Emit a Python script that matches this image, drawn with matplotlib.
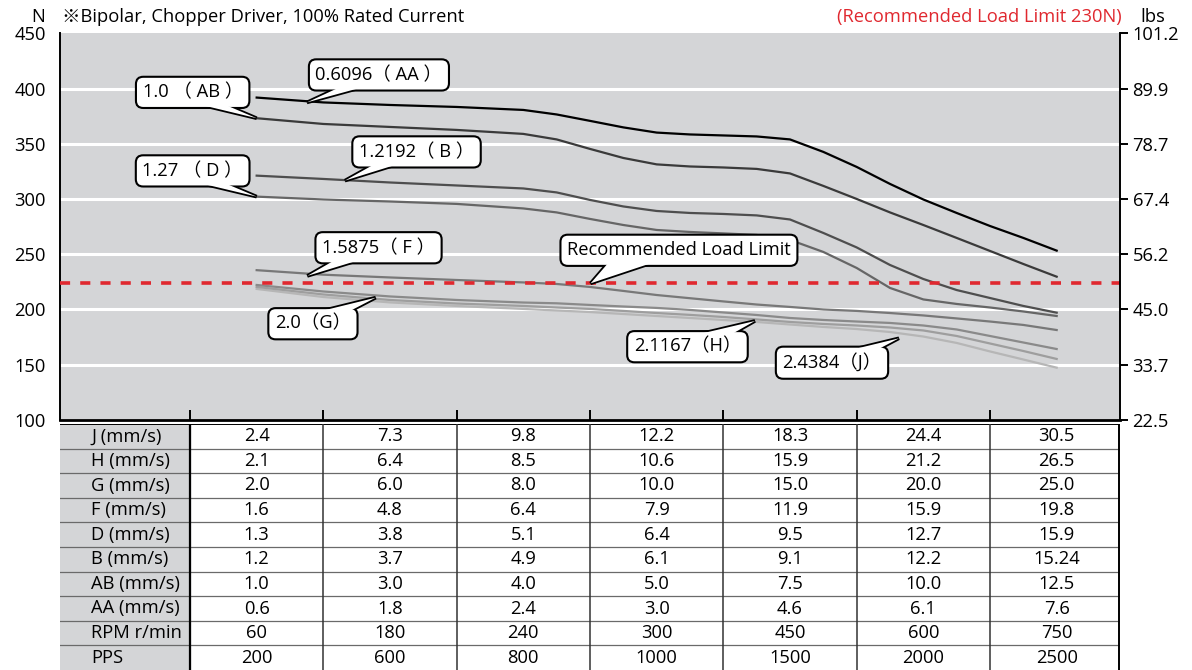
import matplotlib.pyplot as plt
from matplotlib.patches import Polygon

plt.rcParams['font.family'] = ['Open Sans', 'Noto Sans CJK JP', 'DejaVu Sans']

# x positions of the read points (table column index)
STEPS = [0, 0.5, 1, 1.5, 2, 2.25, 2.5, 2.75, 3, 3.25, 3.5, 3.75,
         4, 4.25, 4.5, 4.75, 5, 5.25, 5.5, 5.75, 6]

# load (N)
LOAD_AA = [391.8, 387.4, 385.1, 383.3, 380.6, 376.5, 370.7, 364.8, 360.1, 358.4, 357.5,
           356.6, 353.9, 342.6, 329, 313.6, 299.5, 287.3, 275.5, 264.7, 253.2]
LOAD_AB = [373.1, 367.9, 365.2, 362.5, 358.9, 353.9, 345.3, 337.1, 331.3, 329.4, 328.5,
           327.2, 323.1, 311.8, 300, 287.8, 276.4, 264.7, 252.9, 241.1, 229.6]
LOAD_B = [321.1, 318.1, 314.9, 312.2, 309.5, 305.9, 299.1, 293.2, 289.1, 287.3, 286.4,
          285.1, 281.4, 269.2, 256.1, 240.2, 227.5, 217.5, 210.3, 203.1, 197]
LOAD_D = [302.1, 299.5, 297.7, 295.5, 291.4, 287.8, 281.9, 276.4, 271.9, 270.1, 268.8,
          267.4, 262.9, 252, 237.5, 219.4, 209, 204.9, 201.7, 198.1, 194]
LOAD_F = [235.5, 231.4, 228.9, 226.6, 224.4, 223, 220.3, 216.7, 213, 210.1, 207.2,
          204.4, 202.2, 199.9, 198.6, 196.7, 194.5, 191.8, 189, 185.9, 181.3]
LOAD_G = [222.1, 216.2, 211.7, 208.5, 206.2, 205.5, 204, 202.6, 201.3, 199.5, 197.2,
          194.9, 192.2, 190.4, 189, 187.7, 185.4, 181.8, 175.9, 170, 164.1]
LOAD_H = [220.3, 213.5, 208.5, 205.3, 203.1, 201.7, 200.4, 198.6, 196.7, 195, 193.1,
          190.9, 188.6, 186.8, 185.4, 183.6, 180.9, 175.9, 169.1, 162.3, 155.1]
LOAD_J = [218.5, 211.2, 206.3, 203.1, 200.4, 199, 197.6, 195.8, 194, 192.2, 190.4,
          188.6, 186.3, 184.1, 182.2, 179.5, 175.4, 169.6, 161.9, 154.6, 147.2]

LOAD_LIMIT = 224

N_TICKS = [100, 150, 200, 250, 300, 350, 400, 450]
LBS_LABELS = ['22.5', '33.7', '45.0', '56.2', '67.4', '78.7', '89.9', '101.2']

ROW_NAMES = ['J (mm/s)', 'H (mm/s)', 'G (mm/s)', 'F (mm/s)', 'D (mm/s)',
             'B (mm/s)', 'AB (mm/s)', 'AA (mm/s)', 'RPM r/min', 'PPS']
SPEED_J = ['2.4', '7.3', '9.8', '12.2', '18.3', '24.4', '30.5']
SPEED_H = ['2.1', '6.4', '8.5', '10.6', '15.9', '21.2', '26.5']
SPEED_G = ['2.0', '6.0', '8.0', '10.0', '15.0', '20.0', '25.0']
SPEED_F = ['1.6', '4.8', '6.4', '7.9', '11.9', '15.9', '19.8']
SPEED_D = ['1.3', '3.8', '5.1', '6.4', '9.5', '12.7', '15.9']
SPEED_B = ['1.2', '3.7', '4.9', '6.1', '9.1', '12.2', '15.24']
SPEED_AB = ['1.0', '3.0', '4.0', '5.0', '7.5', '10.0', '12.5']
SPEED_AA = ['0.6', '1.8', '2.4', '3.0', '4.6', '6.1', '7.6']
RPM = ['60', '180', '240', '300', '450', '600', '750']
PPS = ['200', '600', '800', '1000', '1500', '2000', '2500']
TABLE_ROWS = [SPEED_J, SPEED_H, SPEED_G, SPEED_F, SPEED_D,
              SPEED_B, SPEED_AB, SPEED_AA, RPM, PPS]

# callouts: text, box centre, wedge base (two points), wedge tip
CALLOUTS = [
    ('0.6096（ AA ）', (0.917, 412.3), [(0.625, 401.3), (0.797, 401.3)], (0.377, 387.4)),
    ('1.0 （ AB ）', (-0.48, 396.5), [(-0.448, 386.1), (-0.253, 386.1)], (0.0, 373.1)),
    ('1.2192（ B ）', (1.199, 342.6), [(0.902, 332.7), (1.09, 332.7)], (0.662, 316.6)),
    ('1.27 （ D ）', (-0.48, 325.4), [(-0.448, 315.0), (-0.253, 315.0)], (0.0, 302.1)),
    ('1.5875（ F ）', (0.914, 255.8), [(0.602, 245.7), (0.797, 245.7)], (0.38, 230.3)),
    ('Recommended Load Limit', (3.167, 253.5), [(2.65, 243.9), (3.01, 243.9)], (2.505, 223.6)),
    ('2.0（G）', (0.422, 187.0), [(0.437, 197.1), (0.677, 197.1)], (0.8925, 210.6)),
    ('2.1167（H）', (3.231, 166.2), [(3.287, 176.7), (3.55, 176.7)], (3.737, 189.5)),
    ('2.4384（J）', (4.315, 151.7), [(4.375, 160.9), (4.615, 160.9)], (4.817, 173.8)),
]

BG = '#d4d5d7'
FS = 13.2
W, H = 1192, 670
XMIN, XMAX = -1.475, 6.475

fig = plt.figure(figsize=(W / 100, H / 100), dpi=100)
ax = fig.add_axes([60 / W, 1 - 419.8 / H, 1060 / W, 386.5 / H])
ax.set_facecolor(BG)
ax.set_xlim(XMIN, XMAX)
ax.set_ylim(100, 450)

for v in N_TICKS[1:-1]:
    ax.axhline(v, color='white', lw=2.2, zorder=1)

curves = [(LOAD_AA, '#000000'), (LOAD_AB, '#3a3a3a'), (LOAD_B, '#4e4e4e'),
          (LOAD_D, '#666666'), (LOAD_F, '#787878'), (LOAD_G, '#8a8a8a'),
          (LOAD_H, '#9e9e9e'), (LOAD_J, '#b6b6b6')]
for load, col in curves[::-1]:
    ax.plot(STEPS, load, color=col, lw=1.6, zorder=2, solid_joinstyle='round')

ax.axhline(LOAD_LIMIT, color='#e0282f', lw=2.6, ls=(0, (2.8, 2.8)), zorder=3)

ax.set_yticks(N_TICKS)
ax.set_yticklabels([str(v) for v in N_TICKS])
ax.tick_params(axis='y', length=0, pad=10, labelsize=FS)
ax.set_xticks([-0.5, 0.5, 1.5, 2.5, 3.5, 4.5, 5.5])
ax.set_xticklabels([])
ax.tick_params(axis='x', direction='in', length=7, width=1.4, color='black')
for s in ['top', 'right']:
    ax.spines[s].set_visible(False)
ax.spines['left'].set_linewidth(1.4)
ax.spines['bottom'].set_linewidth(2)

ax2 = ax.twinx()
ax2.set_ylim(100, 450)
ax2.set_yticks(N_TICKS)
ax2.set_yticklabels(LBS_LABELS)
ax2.tick_params(axis='y', direction='out', length=6, width=1.4, pad=3, labelsize=FS)
for s in ['top', 'left', 'bottom']:
    ax2.spines[s].set_visible(False)
ax2.spines['right'].set_linewidth(1.4)

box_style = 'round,pad=0.36,rounding_size=0.4'
for txt, box, base, tip in CALLOUTS:
    pts = [base[0], base[1], tip]
    # outlined wedge, then the box, then a white wedge to open the box edge
    ax.add_patch(Polygon(pts, closed=True, fc='white', ec='black', lw=2.6,
                         joinstyle='miter', zorder=6))
    ax.text(box[0], box[1], txt, ha='center', va='center', fontsize=FS,
            color='none', zorder=7,
            bbox=dict(boxstyle=box_style, fc='white', ec='black', lw=1.5))
    ax.add_patch(Polygon(pts, closed=True, fc='white', ec='none', zorder=8))
    ax.text(box[0], box[1], txt, ha='center', va='center', fontsize=FS,
            color='black', zorder=9)

# header texts
fig.text(38 / W, 1 - 17 / H, 'N', ha='center', va='center', fontsize=FS)
fig.text(62 / W, 1 - 17 / H, '※Bipolar, Chopper Driver, 100% Rated Current',
         ha='left', va='center', fontsize=FS)
fig.text(1122 / W, 1 - 17 / H, '(Recommended Load Limit 230N)', ha='right',
         va='center', fontsize=FS, color='#e0282f')
fig.text(1153 / W, 1 - 17 / H, 'lbs', ha='center', va='center', fontsize=FS)

# speed table under the chart
axt = fig.add_axes([60 / W, 0, 1060 / W, 246 / H])
axt.set_xlim(XMIN, XMAX)
axt.set_ylim(len(ROW_NAMES), 0)
axt.axis('off')
axt.axvspan(XMIN, -0.5, color=BG, zorder=0)
for r in range(1, len(ROW_NAMES)):
    axt.axhline(r, color='#6a6a6a', lw=0.9, zorder=1)
axt.axhline(0, color='black', lw=1.4, zorder=2)
axt.axvline(-0.5, color='black', lw=1.6, zorder=2)
for c in [0.5, 1.5, 2.5, 3.5, 4.5, 5.5]:
    axt.axvline(c, color='#333333', lw=1.1, zorder=2)
axt.axvline(XMAX - 0.005, color='black', lw=1.4, zorder=2)

for r, (name, vals) in enumerate(zip(ROW_NAMES, TABLE_ROWS)):
    axt.text(-1.24, r + 0.5, name, ha='left', va='center', fontsize=FS)
    for c, v in enumerate(vals):
        axt.text(c, r + 0.5, v, ha='center', va='center', fontsize=FS)

fig.savefig('out.png', dpi=100)
